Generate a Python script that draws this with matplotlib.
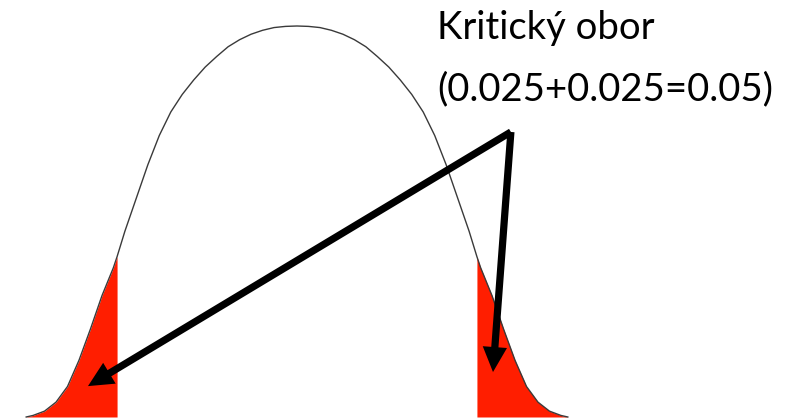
import numpy as np
import matplotlib
matplotlib.use("Agg")
from matplotlib import pyplot as plt

# bell curve traced as (z, relative height) pairs, peak = 1
z = [-2.95, -2.875, -2.75, -2.625, -2.5, -2.375, -2.25, -2.125, -2.0,
     -1.96, -1.875, -1.75, -1.625, -1.5, -1.375, -1.25, -1.125, -1.0,
     -0.875, -0.75, -0.625, -0.5, -0.375, -0.25, -0.125, 0.0,
     0.125, 0.25, 0.375, 0.5, 0.625, 0.75, 0.875, 1.0, 1.125, 1.25,
     1.375, 1.5, 1.625, 1.75, 1.875, 1.96, 2.0, 2.125, 2.25, 2.375,
     2.5, 2.625, 2.75, 2.875, 2.95]
h = [0.0, 0.004, 0.015, 0.038, 0.078, 0.145, 0.225, 0.31, 0.382,
     0.41, 0.475, 0.56, 0.645, 0.72, 0.78, 0.825, 0.862, 0.895,
     0.922, 0.947, 0.965, 0.979, 0.989, 0.996, 0.999, 1.0,
     0.999, 0.996, 0.989, 0.979, 0.965, 0.947, 0.922, 0.895, 0.862, 0.825,
     0.78, 0.72, 0.645, 0.56, 0.475, 0.41, 0.382, 0.31, 0.225, 0.145,
     0.078, 0.038, 0.015, 0.004, 0.0]

z_crit = 1.96
title = "Kritický obor"
subtitle = "(0.025+0.025=0.05)"

# arrow tail and the two tips it points to
arrow_tail = (2.33, 0.729)
arrow_tips = [(-2.277, 0.079), (2.135, 0.115)]

z = np.array(z)
h = np.array(h)

fig = plt.figure(figsize=(7.96, 4.20), dpi=100)
fig.patch.set_facecolor("w")
ax = fig.add_axes([0, 0, 1, 1])
ax.set_xlim(-297 / 91.8, (796 - 297) / 91.8)
ax.set_ylim(-3 / 391, 417 / 391)
ax.axis("off")

red = "#FF1E00"
left = z <= -z_crit
right = z >= z_crit
ax.fill_between(z[left], 0, h[left], color=red, lw=0, zorder=1)
ax.fill_between(z[right], 0, h[right], color=red, lw=0, zorder=1)
ax.plot(z, h, color="#3a3a3a", lw=1.0, zorder=2)

for tip in arrow_tips:
    ax.annotate("", xy=tip, xytext=arrow_tail,
                arrowprops=dict(arrowstyle="simple,head_length=1.8,"
                                           "head_width=1.75,tail_width=0.52",
                                mutation_scale=10, color="k", lw=0,
                                shrinkA=0, shrinkB=0),
                zorder=3)

font = ["Lato", "DejaVu Sans"]
ax.text(1.525, 0.967, title, family=font, fontsize=27.5,
        ha="left", va="baseline", color="k")
ax.text(1.525, 0.811, subtitle, family=font, fontsize=27.5,
        ha="left", va="baseline", color="k")

plt.savefig("out.png", dpi=100)
